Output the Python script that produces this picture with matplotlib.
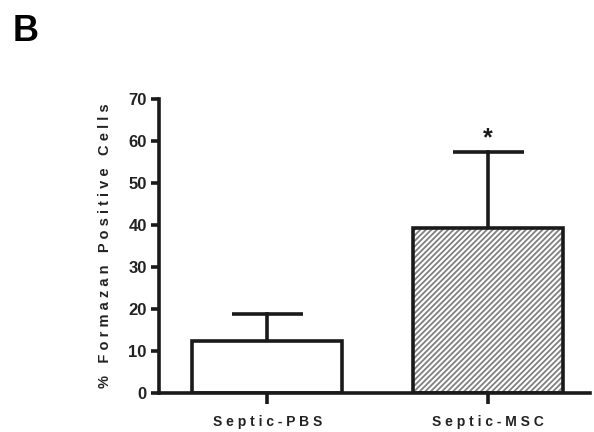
import matplotlib
matplotlib.use("Agg")
import matplotlib.pyplot as plt

groups = ["Septic-PBS", "Septic-MSC"]
means = [12.4, 39.3]
sems = [6.4, 18.1]
y_ticks = [0, 10, 20, 30, 40, 50, 60, 70]


def spaced(s):
    return " ".join(s)


plt.rcParams["font.family"] = ["Liberation Sans", "DejaVu Sans"]
plt.rcParams["hatch.linewidth"] = 1.3
plt.rcParams["hatch.color"] = "#808080"

fig = plt.figure(figsize=(5.94, 4.32), dpi=100)
ax = fig.add_axes([0.268, 0.090, 0.725, 0.681])

x = list(range(len(groups)))
width = 0.68
lw = 2.6
ink = "#1a1a1a"

# error bars (upper only)
for xi, m, e in zip(x, means, sems):
    ax.plot([xi, xi], [m, m + e], color=ink, lw=lw, zorder=1)
    ax.plot([xi - 0.16, xi + 0.16], [m + e, m + e], color=ink, lw=lw,
            solid_capstyle="butt", zorder=1)

# bars
ax.bar(x[0], means[0], width=width, facecolor="white", edgecolor=ink,
       linewidth=lw, zorder=2)
ax.bar(x[1], means[1], width=width, facecolor="white", edgecolor="#808080",
       hatch="//////", linewidth=0, zorder=2)
ax.bar(x[1], means[1], width=width, fill=False, edgecolor=ink,
       linewidth=lw, zorder=3)

ax.text(x[1], means[1] + sems[1] + 3.2, "*", ha="center", va="center",
        fontsize=18, fontweight="bold", color=ink)

ax.set_xlim(-0.49, 1.46)
ax.set_ylim(0, 70)
ax.set_yticks(y_ticks)
ax.set_xticks(x)
ax.set_xticklabels([spaced(g) for g in groups], fontsize=10, fontweight="bold",
                   color="#222222")
ax.set_yticklabels([str(t) for t in y_ticks], fontsize=12, fontweight="bold",
                   color="#222222")
ax.set_ylabel(spaced("% Formazan Positive Cells"), fontsize=10.5,
              fontweight="bold", color="#222222", labelpad=12)

for side in ["top", "right"]:
    ax.spines[side].set_visible(False)
for side in ["left", "bottom"]:
    ax.spines[side].set_linewidth(lw)
    ax.spines[side].set_color(ink)
ax.tick_params(axis="y", length=6, width=lw, color=ink, pad=3)
ax.tick_params(axis="x", length=8, width=lw, color=ink, pad=8)

fig.text(0.022, 0.905, "B", fontsize=26, fontweight="bold", color="black")

fig.savefig("out.png", dpi=100)
